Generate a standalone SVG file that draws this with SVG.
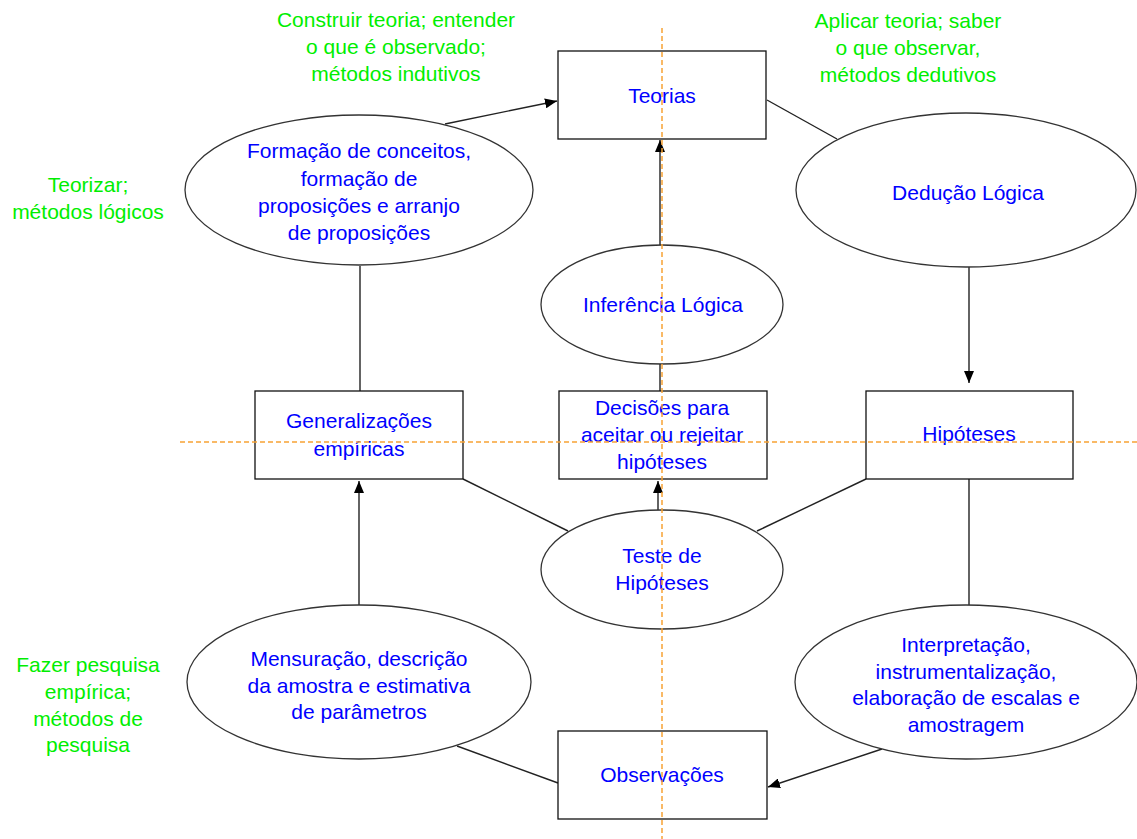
<svg xmlns="http://www.w3.org/2000/svg" width="1137" height="839" viewBox="0 0 1137 839">
  <style>
    .box { fill: #ffffff; stroke: #111111; stroke-width: 1.3; }
    .oval { fill: #ffffff; stroke: #333333; stroke-width: 1.3; }
    .lbl { font-family: "Liberation Sans", Arial, sans-serif; font-size: 21px; fill: #0000ff; text-anchor: middle; }
    .note { font-family: "Liberation Sans", Arial, sans-serif; font-size: 21px; fill: #00ee00; text-anchor: middle; }
    .edge { stroke: #222222; stroke-width: 1.4; fill: none; }
    .arrow { marker-end: url(#head); }
    .guide { stroke: #f7a335; stroke-width: 1.5; stroke-dasharray: 5 3; fill: none; }
  </style>
  <defs>
    <marker id="head" markerUnits="userSpaceOnUse" markerWidth="12" markerHeight="10" refX="12" refY="5" orient="auto">
      <path d="M0,0 L12,5 L0,10 z" fill="#000000"/>
    </marker>
  </defs>

  <rect width="1137" height="839" fill="#ffffff"/>

  <!-- side annotations -->
  <g id="notes">
    <text class="note" x="396" y="27">Construir teoria; entender</text>
    <text class="note" x="396" y="54">o que é observado;</text>
    <text class="note" x="396" y="81">métodos indutivos</text>
    <text class="note" x="908" y="28">Aplicar teoria; saber</text>
    <text class="note" x="908" y="55">o que observar,</text>
    <text class="note" x="908" y="82">métodos dedutivos</text>
    <text class="note" x="88" y="192">Teorizar;</text>
    <text class="note" x="88" y="219">métodos lógicos</text>
    <text class="note" x="88" y="672">Fazer pesquisa</text>
    <text class="note" x="88" y="699">empírica;</text>
    <text class="note" x="88" y="726">métodos de</text>
    <text class="note" x="88" y="752">pesquisa</text>
  </g>

  <!-- connectors -->
  <g id="connectors">
    <line class="edge arrow" x1="445" y1="124" x2="557" y2="101"/>
    <line class="edge" x1="767" y1="100" x2="837" y2="139"/>
    <line class="edge arrow" x1="660" y1="245" x2="660" y2="140"/>
    <line class="edge" x1="660" y1="364" x2="660" y2="391"/>
    <line class="edge" x1="360" y1="266" x2="360" y2="391"/>
    <line class="edge arrow" x1="969" y1="267" x2="969" y2="383"/>
    <line class="edge" x1="463" y1="479" x2="568" y2="531"/>
    <line class="edge" x1="866" y1="479" x2="757" y2="531"/>
    <line class="edge arrow" x1="658" y1="510" x2="658" y2="481"/>
    <line class="edge arrow" x1="359" y1="605" x2="359" y2="481"/>
    <line class="edge" x1="969" y1="479" x2="969" y2="605"/>
    <line class="edge" x1="457" y1="746" x2="558" y2="783"/>
    <line class="edge arrow" x1="882" y1="749" x2="768" y2="787"/>
  </g>

  <!-- nodes -->
  <g id="teorias">
    <rect class="box" x="558" y="51" width="208" height="88"/>
    <text class="lbl" x="662" y="103">Teorias</text>
  </g>
  <g id="formacao">
    <ellipse class="oval" cx="359" cy="190" rx="174" ry="75"/>
    <text class="lbl" x="359" y="158">Formação de conceitos,</text>
    <text class="lbl" x="359" y="186">formação de</text>
    <text class="lbl" x="359" y="213">proposições e arranjo</text>
    <text class="lbl" x="359" y="240">de proposições</text>
  </g>
  <g id="deducao">
    <ellipse class="oval" cx="966" cy="190" rx="170" ry="77"/>
    <text class="lbl" x="968" y="200">Dedução Lógica</text>
  </g>
  <g id="inferencia">
    <ellipse class="oval" cx="662" cy="304.5" rx="121" ry="59.5"/>
    <text class="lbl" x="663" y="312">Inferência Lógica</text>
  </g>
  <g id="generalizacoes">
    <rect class="box" x="255" y="391" width="208" height="88"/>
    <text class="lbl" x="359" y="428">Generalizações</text>
    <text class="lbl" x="359" y="456">empíricas</text>
  </g>
  <g id="decisoes">
    <rect class="box" x="559" y="391" width="208" height="88"/>
    <text class="lbl" x="662" y="415">Decisões para</text>
    <text class="lbl" x="662" y="442">aceitar ou rejeitar</text>
    <text class="lbl" x="662" y="469">hipóteses</text>
  </g>
  <g id="hipoteses">
    <rect class="box" x="866" y="391" width="207" height="88"/>
    <text class="lbl" x="969" y="441">Hipóteses</text>
  </g>
  <g id="teste">
    <ellipse class="oval" cx="662" cy="569.5" rx="121" ry="59.5"/>
    <text class="lbl" x="662" y="563">Teste de</text>
    <text class="lbl" x="662" y="590">Hipóteses</text>
  </g>
  <g id="mensuracao">
    <ellipse class="oval" cx="359" cy="682" rx="172" ry="77"/>
    <text class="lbl" x="359" y="666">Mensuração, descrição</text>
    <text class="lbl" x="359" y="693">da amostra e estimativa</text>
    <text class="lbl" x="359" y="719">de parâmetros</text>
  </g>
  <g id="interpretacao">
    <ellipse class="oval" cx="966" cy="682" rx="171" ry="77"/>
    <text class="lbl" x="966" y="652">Interpretação,</text>
    <text class="lbl" x="966" y="679">instrumentalização,</text>
    <text class="lbl" x="966" y="705">elaboração de escalas e</text>
    <text class="lbl" x="966" y="732">amostragem</text>
  </g>
  <g id="observacoes">
    <rect class="box" x="558" y="731" width="209" height="88"/>
    <text class="lbl" x="662" y="782">Observações</text>
  </g>

  <!-- quadrant guides -->
  <g id="guides">
    <line class="guide" x1="662" y1="28" x2="662" y2="839"/>
    <line class="guide" x1="180" y1="442" x2="1137" y2="442"/>
  </g>
</svg>
